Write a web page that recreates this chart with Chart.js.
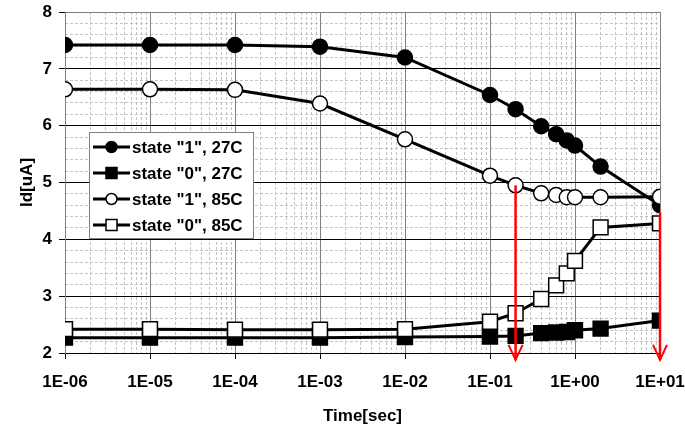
<!DOCTYPE html>
<html>
<head>
<meta charset="utf-8">
<script src="https://cdn.jsdelivr.net/npm/chart.js@4.4.0/dist/chart.umd.min.js"></script>
<style>
  html, body { margin: 0; padding: 0; background: #fff; }
</style>
</head>
<body>
<canvas id="chart-canvas" width="685" height="428"></canvas>
<script>
// values
var times = [1e-6, 1e-5, 1e-4, 1e-3, 1e-2, 0.1, 0.2, 0.4, 0.6, 0.8, 1, 2, 10];
var state1_27 = [7.42, 7.42, 7.42, 7.39, 7.20, 6.54, 6.29, 5.99, 5.85, 5.74, 5.65, 5.28, 4.60];
var state0_27 = [2.27, 2.27, 2.27, 2.27, 2.28, 2.29, 2.30, 2.35, 2.36, 2.37, 2.40, 2.43, 2.57];
var state1_85 = [6.64, 6.64, 6.63, 6.39, 5.76, 5.12, 4.95, 4.81, 4.78, 4.74, 4.74, 4.74, 4.75];
var state0_85 = [2.42, 2.42, 2.41, 2.41, 2.42, 2.55, 2.70, 2.95, 3.19, 3.40, 3.62, 4.21, 4.28];
var seriesLabels = ['state "1", 27C', 'state "0", 27C', 'state "1", 85C', 'state "0", 85C'];

var xTicks = [1e-6, 1e-5, 1e-4, 1e-3, 1e-2, 1e-1, 1, 10];
var yTicks = [2, 3, 4, 5, 6, 7, 8];

// red arrows (time, start level, tip level)
var arrowX = [0.2, 10];
var arrowTop = [4.95, 4.48];
var arrowTip = [1.88, 1.88];

// minor grid positions (2..9 in every decade, 0.2 steps on y)
var xMinor = [];
xTicks.slice(0, -1).forEach(function (d) {
    for (var k = 2; k <= 9; k++) xMinor.push(d * k);
});
var yMinor = [];
for (var v = 2.2; v < 8; v += 0.2) {
    if (Math.abs(v - Math.round(v)) > 0.01) yMinor.push(Math.round(v * 10) / 10);
}

var FONT = { family: '"Liberation Sans", Arial, sans-serif', size: 17, weight: 'bold' };

function pts(values) {
    return values.map(function (y, i) { return { x: times[i], y: y }; });
}

function expLabel(v) {
    var e = Math.round(Math.log10(v));
    var s = Math.abs(e) < 10 ? '0' + Math.abs(e) : '' + Math.abs(e);
    return '1E' + (e < 0 ? '-' : '+') + s;
}

function makeSet(i, values, style, fill) {
    var r = style === 'rect' ? 10.5 : 7.5;
    return {
        label: seriesLabels[i],
        data: pts(values),
        borderColor: '#000',
        borderWidth: 3,
        pointStyle: style,
        pointRadius: r,
        pointHoverRadius: r,
        pointBackgroundColor: fill,
        pointBorderColor: '#000',
        pointBorderWidth: 1.5,
        order: 3 - i
    };
}

var overlay = {
    id: 'overlay',
    afterDatasetsDraw: function (chart) {
        var ctx = chart.ctx;
        var xs = chart.scales.x, ys = chart.scales.y;

        // red arrows
        ctx.save();
        ctx.strokeStyle = '#ff0000';
        ctx.lineCap = 'butt';
        for (var i = 0; i < arrowX.length; i++) {
            var px = xs.getPixelForValue(arrowX[i]);
            var y1 = ys.getPixelForValue(arrowTop[i]);
            var y2 = ys.getPixelForValue(arrowTip[i]);
            ctx.lineWidth = 2.5;
            ctx.beginPath();
            ctx.moveTo(px, y1);
            ctx.lineTo(px, y2);
            ctx.stroke();
            ctx.lineWidth = 2;
            ctx.beginPath();
            ctx.moveTo(px - 7, y2 - 15);
            ctx.lineTo(px, y2);
            ctx.lineTo(px + 7, y2 - 15);
            ctx.stroke();
        }
        ctx.restore();

        // legend box inside the plot
        var bx = chart.chartArea.left + 24, by = chart.chartArea.top + 120;
        var bw = 164, bh = 106;
        ctx.save();
        ctx.fillStyle = '#fff';
        ctx.fillRect(bx, by, bw, bh);
        ctx.strokeStyle = '#808080';
        ctx.lineWidth = 1;
        ctx.strokeRect(bx + 0.5, by + 0.5, bw, bh);
        ctx.font = 'bold 17px "Liberation Sans", Arial, sans-serif';
        ctx.textBaseline = 'middle';
        ctx.textAlign = 'left';
        chart.data.datasets.forEach(function (ds, k) {
            var cy = by + 15 + k * 26;
            ctx.strokeStyle = '#000';
            ctx.lineWidth = 3;
            ctx.beginPath();
            ctx.moveTo(bx + 4, cy);
            ctx.lineTo(bx + 41, cy);
            ctx.stroke();
            ctx.fillStyle = ds.pointBackgroundColor;
            ctx.lineWidth = 1.5;
            ctx.beginPath();
            if (ds.pointStyle === 'rect') {
                ctx.rect(bx + 17, cy - 5.5, 11, 11);
            } else {
                ctx.arc(bx + 22.5, cy, 5.5, 0, 2 * Math.PI);
            }
            ctx.fill();
            ctx.stroke();
            ctx.fillStyle = '#000';
            ctx.fillText(ds.label, bx + 43, cy + 1);
        });
        ctx.restore();
    }
};

var chartCanvas = document.getElementById('chart-canvas');

new Chart(chartCanvas, {
    type: 'line',
    data: {
        datasets: [
            makeSet(0, state1_27, 'circle', '#000'),
            makeSet(1, state0_27, 'rect', '#000'),
            makeSet(2, state1_85, 'circle', '#fff'),
            makeSet(3, state0_85, 'rect', '#fff')
        ]
    },
    options: {
        responsive: false,
        animation: false,
        devicePixelRatio: 1,
        layout: { padding: { left: 0, right: 25, top: 11, bottom: 0 } },
        plugins: {
            legend: { display: false },
            tooltip: { enabled: false }
        },
        scales: {
            xMinor: {
                type: 'logarithmic',
                position: 'bottom',
                min: 1e-6,
                max: 10,
                z: -1,
                afterBuildTicks: function (s) { s.ticks = xMinor.map(function (v) { return { value: v }; }); },
                afterFit: function (s) { s.height = 0; s.paddingLeft = 0; s.paddingRight = 0; },
                ticks: { display: false },
                grid: { color: '#c4c4c4', lineWidth: 1, drawTicks: false },
                border: { display: false, dash: [3, 2] }
            },
            yMinor: {
                type: 'linear',
                position: 'left',
                min: 2,
                max: 8,
                z: -1,
                afterBuildTicks: function (s) { s.ticks = yMinor.map(function (v) { return { value: v }; }); },
                afterFit: function (s) { s.width = 0; s.paddingTop = 0; s.paddingBottom = 0; },
                ticks: { display: false },
                grid: { color: '#c4c4c4', lineWidth: 1, drawTicks: false },
                border: { display: false, dash: [3, 2] }
            },
            x: {
                type: 'logarithmic',
                position: 'bottom',
                min: 1e-6,
                max: 10,
                afterBuildTicks: function (s) { s.ticks = xTicks.map(function (v) { return { value: v }; }); },
                afterFit: function (s) { s.height = 75; s.paddingLeft = 0; s.paddingRight = 0; },
                ticks: {
                    font: FONT,
                    color: '#000',
                    padding: 13,
                    maxRotation: 0,
                    autoSkip: false,
                    callback: function (v) { return expLabel(v); }
                },
                grid: { color: '#808080', lineWidth: 1, tickColor: '#000', tickLength: 6 },
                border: { color: '#000', width: 1 },
                title: { display: true, text: 'Time[sec]', font: FONT, color: '#000', padding: { top: 0, bottom: 1 } }
            },
            y: {
                type: 'linear',
                position: 'left',
                min: 2,
                max: 8,
                afterBuildTicks: function (s) { s.ticks = yTicks.map(function (v) { return { value: v }; }); },
                afterFit: function (s) { s.width = 65; s.paddingTop = 0; s.paddingBottom = 0; },
                ticks: { font: FONT, color: '#000', padding: 7 },
                grid: {
                    color: function (c) { return c.tick && c.tick.value === 8 ? '#808080' : '#000'; },
                    lineWidth: 1,
                    tickColor: '#000',
                    tickLength: 6
                },
                border: { color: '#808080', width: 1 },
                title: { display: true, text: 'Id[uA]', font: FONT, color: '#000', padding: { top: 17, bottom: 0 } }
            }
        }
    },
    plugins: [overlay]
});
</script>
</body>
</html>
